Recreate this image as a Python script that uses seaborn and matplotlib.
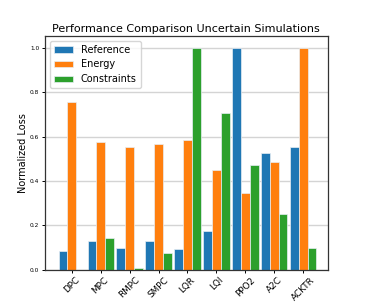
import matplotlib
matplotlib.use("Agg")
import matplotlib.pyplot as plt
import seaborn as sns
import pandas as pd

controllers = ["DPC", "MPC", "RMPC", "SMPC", "LQR", "LQI", "PPO2", "A2C", "ACKTR"]
reference = [0.085, 0.13, 0.10, 0.13, 0.095, 0.175, 1.0, 0.525, 0.555]
energy = [0.755, 0.575, 0.555, 0.565, 0.585, 0.45, 0.345, 0.485, 1.0]
constraints = [0.0, 0.145, 0.01, 0.075, 1.0, 0.705, 0.47, 0.25, 0.10]
metrics = ["Reference", "Energy", "Constraints"]
colors = ["#1f77b4", "#ff7f0e", "#2ca02c"]

df = pd.DataFrame({"Controller": controllers, "Reference": reference,
                   "Energy": energy, "Constraints": constraints})
long_df = df.melt(id_vars="Controller", var_name="Metric", value_name="Loss")

fig = plt.figure(figsize=(3.65, 3.04), dpi=100)
ax = fig.add_axes([0.123, 0.112, 0.775, 0.77])
ax.set_axisbelow(True)
ax.grid(True, color="#d4d4d4", linewidth=1)

sns.barplot(data=long_df, x="Controller", y="Loss", hue="Metric", hue_order=metrics,
            palette=colors, width=0.9, edgecolor="#e8eef4", linewidth=0.5,
            saturation=1, ax=ax)

ax.set_xlim(-0.92, 8.84)
ax.set_ylim(0, 1.053)
ax.set_yticks([0.0, 0.2, 0.4, 0.6, 0.8, 1.0])
ax.tick_params(axis="both", length=2.5, width=0.7, pad=1.5)
ax.tick_params(axis="y", labelsize=4.2)
ax.tick_params(axis="x", labelsize=6.4, labelrotation=45)
for side in ax.spines.values():
    side.set_linewidth(0.9)
    side.set_color("#333333")
ax.set_xlabel("")
ax.set_ylabel("Normalized Loss", fontsize=7, labelpad=1.5)
ax.set_title("Performance Comparison Uncertain Simulations", fontsize=8, pad=3)
ax.legend(loc="upper left", fontsize=7)

fig.savefig("out.png", dpi=100)
